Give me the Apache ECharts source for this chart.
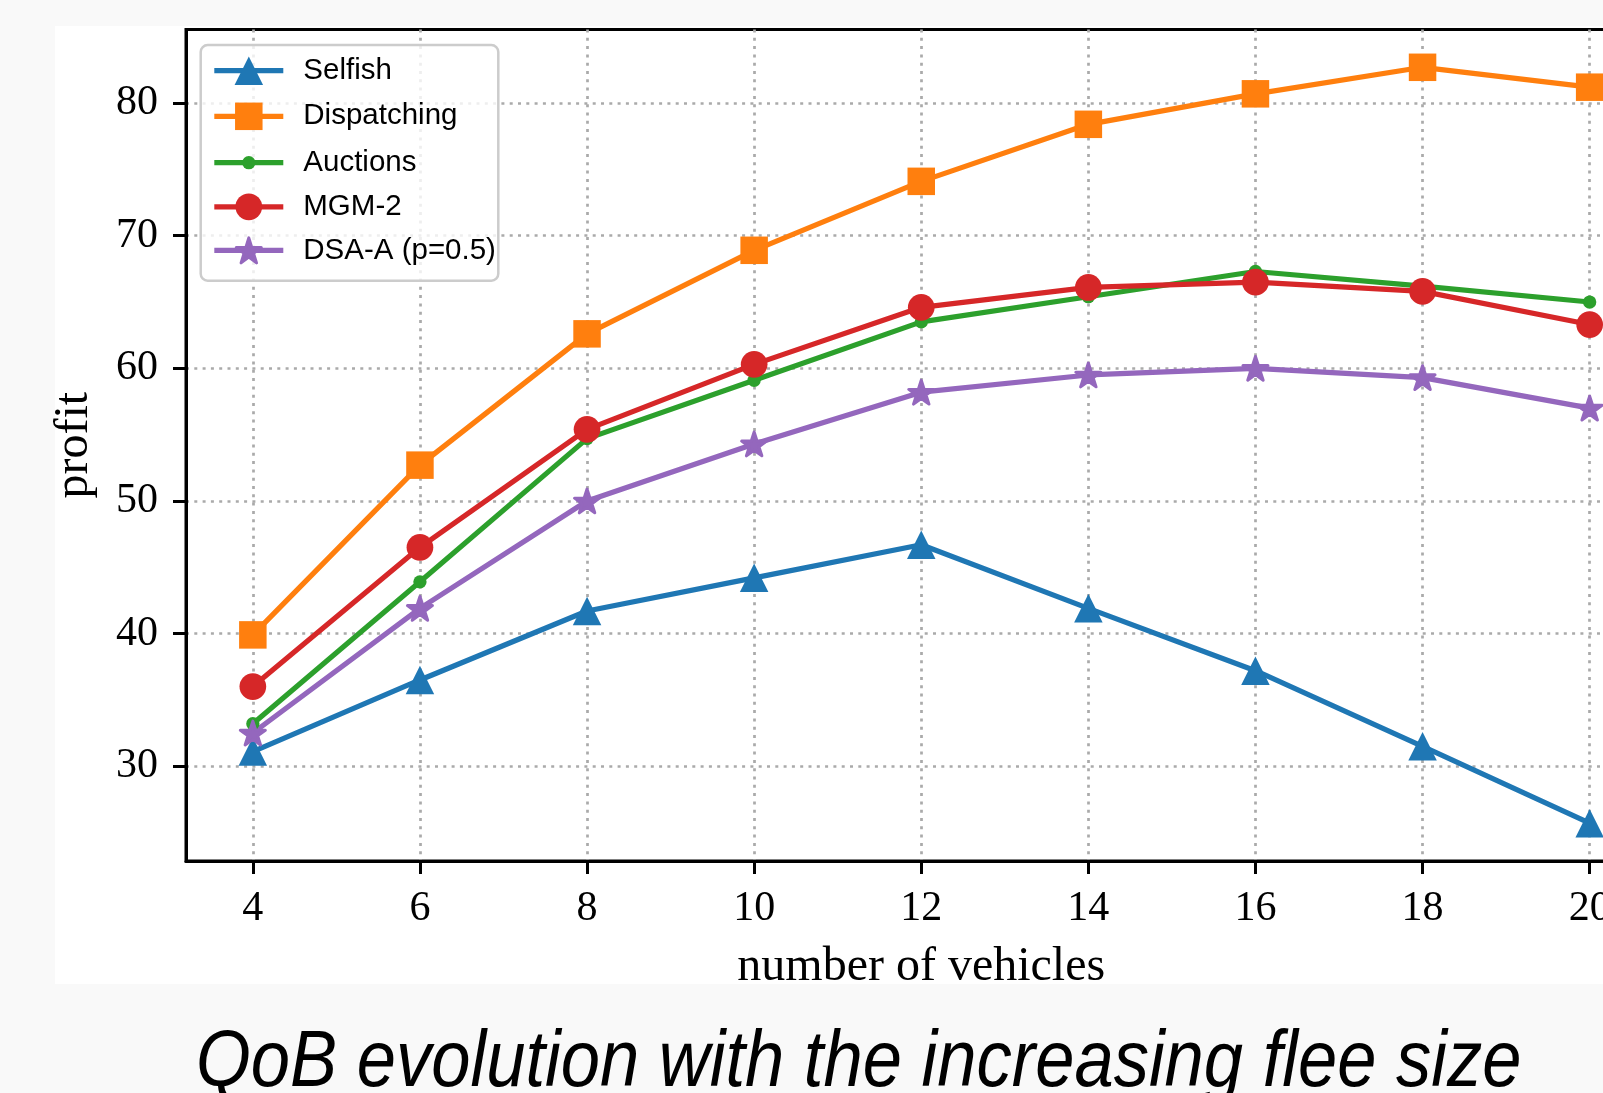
<!DOCTYPE html>
<html><head><meta charset="utf-8">
<script src="https://cdn.jsdelivr.net/npm/echarts@6/dist/echarts.min.js"></script>
<style>html,body{margin:0;padding:0;background:#f9f9f9;} #c{width:1603px;height:1093px;}</style>
</head><body><div id="c"></div>
<script>
// ---- data ----
const xValues = [4, 6, 8, 10, 12, 14, 16, 18, 20];
const xTicks = [4, 6, 8, 10, 12, 14, 16, 18, 20];
const yTicks = [30, 40, 50, 60, 70, 80];
const selfish     = [31.1, 36.5, 41.7, 44.2, 46.7, 41.9, 37.2, 31.5, 25.7];
const dispatching = [39.9, 52.7, 62.6, 68.9, 74.1, 78.4, 80.7, 82.7, 81.2];
const auctions    = [33.2, 43.9, 54.7, 59.1, 63.5, 65.4, 67.3, 66.2, 65.0];
const mgm2        = [36.0, 46.5, 55.4, 60.3, 64.6, 66.1, 66.5, 65.8, 63.3];
const dsaA        = [32.5, 41.9, 50.0, 54.3, 58.2, 59.5, 60.0, 59.3, 57.0];
const seriesNames = ['Selfish', 'Dispatching', 'Auctions', 'MGM-2', 'DSA-A (p=0.5)'];
const titleText = 'QoB evolution with the increasing flee size';
const xName = 'number of vehicles';
const yName = 'profit';

// ---- styling ----
const STAR = 'path://M100 0 L122.45 69.1 L195.11 69.1 L136.33 111.8 L158.78 180.9 L100 138.2 L41.22 180.9 L63.67 111.8 L4.89 69.1 L77.55 69.1 Z';
const seriesData = [selfish, dispatching, auctions, mgm2, dsaA];
const LW = 5.2;
const looks = [
  {color: '#1f77b4', symbol: 'triangle', size: 28.5, row: 73.5, border: 0},
  {color: '#ff7f0e', symbol: 'rect', size: 27.5, row: 118.5, border: 0},
  {color: '#2ca02c', symbol: 'circle', size: 13.3, row: 156, border: 0},
  {color: '#d62728', symbol: 'circle', size: 26.7, row: 208.5, border: 0},
  {color: '#9467bd', symbol: STAR, size: 25, row: 251, border: 3}
];

// matplotlib-like 5% margins
const allY = [].concat(...seriesData);
const yMinD = Math.min(...allY), yMaxD = Math.max(...allY);
const yPad = (yMaxD - yMinD) * 0.05;
const xPad = (xValues[xValues.length - 1] - xValues[0]) * 0.05;

const serif = 'Liberation Serif';
const chart = echarts.init(document.getElementById('c'), null, {renderer: 'canvas'});

const option = {
  animation: false,
  backgroundColor: '#f9f9f9',
  grid: {
    left: 186, top: 29.5, width: 1470.5, height: 831.5,
    containLabel: false, outerBoundsMode: 'none',
    show: true, borderColor: '#000', borderWidth: 3, backgroundColor: 'transparent'
  },
  xAxis: {
    type: 'value',
    min: xValues[0] - xPad, max: xValues[xValues.length - 1] + xPad,
    name: xName, nameLocation: 'middle', nameGap: 82,
    nameTextStyle: {fontFamily: serif, fontSize: 48, color: '#000'},
    axisLine: {show: true, onZero: false, lineStyle: {color: '#000', width: 3}},
    axisTick: {show: true, length: 13, lineStyle: {color: '#000', width: 3}, customValues: xTicks},
    axisLabel: {show: true, margin: 27, fontFamily: serif, fontSize: 42, color: '#000', customValues: xTicks},
    splitLine: {show: true, lineStyle: {color: '#aaaaaa', width: 2.7, type: [3, 5.3]}},
    minorTick: {show: false}, minorSplitLine: {show: false}
  },
  yAxis: {
    type: 'value',
    min: yMinD - yPad, max: yMaxD + yPad,
    name: yName, nameLocation: 'middle', nameGap: 88,
    nameTextStyle: {fontFamily: serif, fontSize: 48, color: '#000'},
    axisLine: {show: true, onZero: false, lineStyle: {color: '#000', width: 3}},
    axisTick: {show: true, length: 13, lineStyle: {color: '#000', width: 3}, customValues: yTicks},
    axisLabel: {show: true, margin: 28, fontFamily: serif, fontSize: 42, color: '#000', customValues: yTicks},
    splitLine: {show: true, lineStyle: {color: '#aaaaaa', width: 2.7, type: [3, 5.3]}}
  },
  legend: seriesNames.map((n, i) => {
    const ih = looks[i].size / 0.8;
    return {
      data: [n], left: 211.7, top: looks[i].row - ih / 2,
      itemWidth: 69, itemHeight: ih, padding: 0, selectedMode: false,
      orient: 'vertical', z: 6,
      lineStyle: {width: LW},
      itemStyle: {borderWidth: looks[i].border, borderColor: looks[i].color, borderJoin: 'round'},
      textStyle: {fontFamily: 'Liberation Sans', fontSize: 29.5, color: '#000', padding: [6, 0, 0, 15]}
    };
  }),
  graphic: [
    {type: 'rect', z: -5, silent: true, shape: {x: 55, y: 26, width: 1548, height: 958}, style: {fill: '#ffffff'}},
    {type: 'rect', z: 4, silent: true, shape: {x: 200.7, y: 45, width: 297.6, height: 235.7, r: 7},
     style: {fill: 'rgba(255,255,255,0.8)', stroke: '#cccccc', lineWidth: 2.5}},
    {type: 'text', z: 10, silent: true, x: 196, y: 1064, scaleX: 0.893,
     style: {text: titleText, fontFamily: 'Liberation Sans', fontStyle: 'italic', fontSize: 79,
             fill: '#000', align: 'left', verticalAlign: 'middle'}}
  ],
  series: seriesNames.map((n, i) => ({
    type: 'line', name: n,
    data: xValues.map((x, j) => [x, seriesData[i][j]]),
    symbol: looks[i].symbol, symbolSize: looks[i].size, symbolKeepAspect: true,
    showSymbol: true, showAllSymbol: true,
    lineStyle: {color: looks[i].color, width: LW},
    itemStyle: {color: looks[i].color, borderWidth: looks[i].border, borderColor: looks[i].color, borderJoin: 'round'},
    emphasis: {disabled: true}, z: 2
  }))
};
chart.setOption(option);
</script>
</body></html>
